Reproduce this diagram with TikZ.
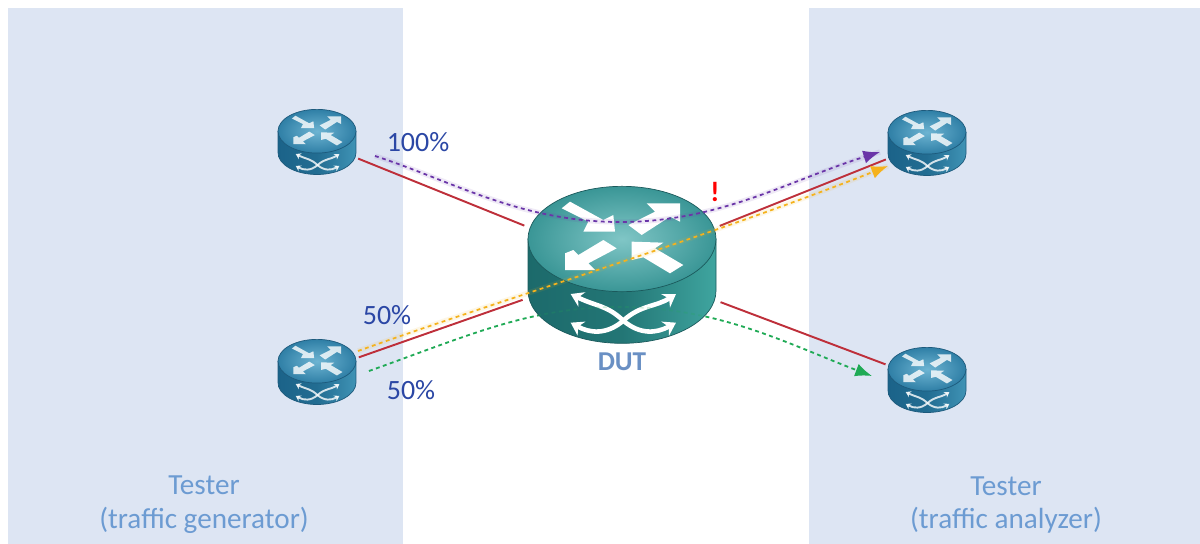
\documentclass[tikz,border=0pt]{standalone}
\usepackage{fontspec}
\setmainfont{Carlito}
\usetikzlibrary{arrows.meta,shadings}
\definecolor{panel}{HTML}{DDE5F3}
\definecolor{lbl}{HTML}{6C9BD2}
\definecolor{dutlbl}{HTML}{6A90C4}
\definecolor{pct}{HTML}{2B47A5}
\definecolor{redl}{HTML}{BE2F3A}
\definecolor{purp}{HTML}{6A35A8}
\definecolor{yell}{HTML}{F5B21C}
\definecolor{gree}{HTML}{1FAA55}
\definecolor{dtopin}{HTML}{80C6C6}
\definecolor{dtopout}{HTML}{3A9696}
\definecolor{dsidea}{HTML}{1C6A6B}
\definecolor{dsideb}{HTML}{3FA59F}
\definecolor{dedge}{HTML}{1B5A5C}
\definecolor{rtopin}{HTML}{6DB4D2}
\definecolor{rtopout}{HTML}{2F7FA6}
\definecolor{rsidea}{HTML}{1B6389}
\definecolor{rsideb}{HTML}{3F93B5}
\definecolor{redge}{HTML}{1D5A7C}
\tikzset{
  link/.style={draw=redl,line width=1.1pt},
  hub/.style={circle,inner sep=0pt,minimum size=4.2cm},
  leaf/.style={circle,inner sep=0pt,minimum size=1.76cm},
  flow/.style={line width=1pt,dash pattern=on 2.2pt off 2pt},
  halo/.style={line width=3pt,opacity=.1},
  tip/.style={-{Latex[length=9.5pt,width=7.5pt]}},
  lab/.style={font=\fontsize{16.6}{19.3}\selectfont,text=lbl,align=center,inner sep=0pt},
  pctlab/.style={font=\fontsize{15.9}{19}\selectfont,text=pct,inner sep=0pt},
  panelbox/.style={fill=panel,draw=none}
}
% #1 cx, #2 cy, #3 scale, #4 colour prefix (d or r), #5 whiteness of the glyphs
\newcommand{\routerdraw}[5]{%
  \pgfmathsetlengthmacro{\rlw}{#3*2.6pt}%
  \pgfmathsetlengthmacro{\ral}{#3*7pt}%
  \pgfmathsetlengthmacro{\raw}{#3*9pt}%
  \pgfmathsetlengthmacro{\rxu}{#3*0.0066667cm}%
  \begin{scope}[shift={(#1,#2)}]
  \begin{scope}[x=\rxu,y=-\rxu,shift={(-366,-285)}]
    \shade[left color=#4sidea,right color=#4sideb,middle color=#4sidea!80!#4sideb,draw=#4edge,line width=.4pt]
      (84,207) -- (84,362) arc[start angle=180,end angle=0,x radius=282,y radius=158] -- (648,207) -- cycle;
    \shade[inner color=#4topin,outer color=#4topout,draw=#4edge,line width=.4pt]
      (366,207) ellipse[x radius=282,y radius=158];
    \fill[white,opacity=#5] (210,95) -- (185,115) -- (265,155) -- (250,185) -- (345,185) -- (340,135) -- (310,150) -- cycle;
    \fill[white,opacity=#5] (440,100) -- (540,100) -- (540,155) -- (510,140) -- (425,195) -- (385,165) -- (465,125) -- cycle;
    \fill[white,opacity=#5] (195,250) -- (195,300) -- (285,300) -- (265,280) -- (350,235) -- (310,210) -- (235,255) -- (220,240) -- cycle;
    \fill[white,opacity=#5] (395,215) -- (490,218) -- (465,235) -- (550,285) -- (510,310) -- (430,262) -- (395,270) -- cycle;
    \draw[white,opacity=#5,line width=\rlw,{Stealth[length=\ral,width=\raw]}-{Stealth[length=\ral,width=\raw]}]
      (212,372) .. controls (290,410) and (320,405) .. (370,452) .. controls (420,495) and (470,490) .. (528,458);
    \draw[white,opacity=#5,line width=\rlw,{Stealth[length=\ral,width=\raw]}-{Stealth[length=\ral,width=\raw]}]
      (212,458) .. controls (270,490) and (320,495) .. (370,452) .. controls (420,405) and (470,410) .. (528,372);
  \end{scope}
  \end{scope}%
}
\begin{document}
\begin{tikzpicture}[x=0.02cm,y=-0.02cm]
\useasboundingbox (0,0) rectangle (1200,544);
\fill[white] (0,0) rectangle (1200,544);
\fill[panelbox] (8,8) rectangle (403,544);
\fill[panelbox] (809,8) rectangle (1200,544);

\node[leaf] (r1) at (317,142) {};
\node[leaf] (r2) at (317,372) {};
\node[leaf] (r3) at (927,143) {};
\node[leaf] (r4) at (927,380) {};
\node[hub] (dut) at (622,265) {};

\coordinate (ps) at (375,156);
\coordinate (pm) at (620,222);
\coordinate (pe) at (880,152);
\coordinate (ys) at (358,351);
\coordinate (ye) at (888,166);
\coordinate (gs) at (369,371);
\coordinate (gm) at (620,307);
\coordinate (ge) at (872,376);

\draw[link] (r1) -- (dut);
\draw[link] (r2) -- (dut);
\draw[link] (dut) -- (r3);
\draw[link] (dut) -- (r4);

% green flow, hidden behind the DUT
\draw[flow,draw=gree,tip] (gs) .. controls (470,335) and (530,307) .. (gm) .. controls (720,307) and (790,345) .. (ge);

\routerdraw{622}{265}{1}{d}{1}
\routerdraw{317}{142}{0.415}{r}{.8}
\routerdraw{317}{372}{0.415}{r}{.8}
\routerdraw{927}{143}{0.415}{r}{.8}
\routerdraw{927}{380}{0.415}{r}{.8}

% faint part of the green flow over the DUT
\draw[flow,draw=gree,opacity=.2] (gs) .. controls (470,335) and (530,307) .. (gm) .. controls (720,307) and (790,345) .. (ge);

% halos
\draw[halo,draw=purp] (ps) .. controls (450,180) and (520,222) .. (pm) .. controls (720,222) and (790,180) .. (pe);
\draw[halo,draw=yell] (ys) .. controls (500,300) and (700,240) .. (ye);

\draw[flow,draw=purp,tip] (ps) .. controls (450,180) and (520,222) .. (pm) .. controls (720,222) and (790,180) .. (pe);
\draw[flow,draw=yell,tip] (ys) .. controls (500,300) and (700,240) .. (ye);

\node[pctlab] (t100) at (418,142) {100\%};
\node[pctlab] (t50a) at (387,315) {50\%};
\node[pctlab] (t50b) at (411,390) {50\%};
\node[font=\fontsize{15.5}{19}\selectfont\bfseries,text=dutlbl,inner sep=0pt] (tdut) at (622,362) {DUT};
\node[font=\fontsize{16}{19}\selectfont\bfseries,text=red,inner sep=0pt] (tex) at (715,192) {!};
\node[lab] (tl) at (204,505) {Tester\\(traffic generator)};
\node[lab] (tr) at (1006,505) {Tester\\(traffic analyzer)};
\end{tikzpicture}
\end{document}
